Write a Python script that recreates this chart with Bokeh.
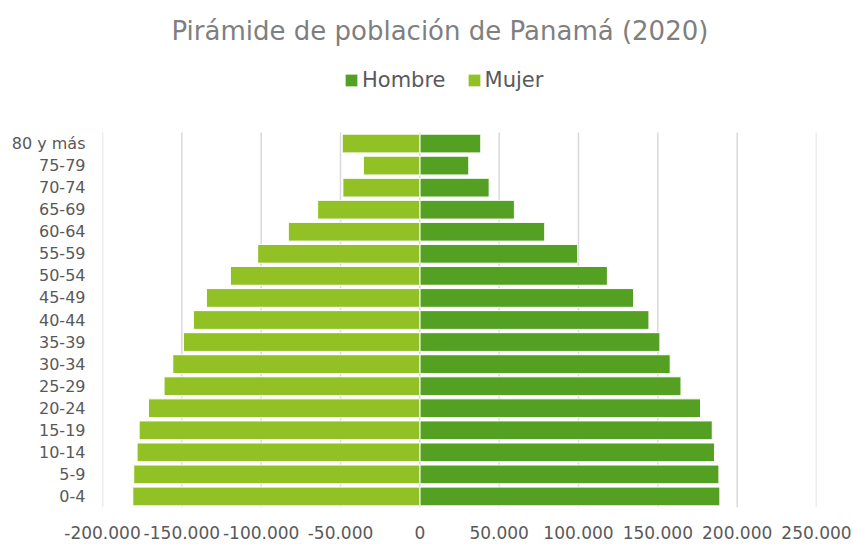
from bokeh.plotting import figure
from bokeh.models import (ColumnDataSource, Range1d, FixedTicker,
                          Legend, LegendItem, Title)
from bokeh.embed import file_html
from bokeh.resources import INLINE

# ---- data ----
age_groups = ["0-4", "5-9", "10-14", "15-19", "20-24", "25-29", "30-34", "35-39",
              "40-44", "45-49", "50-54", "55-59", "60-64", "65-69", "70-74",
              "75-79", "80 y más"]
hombre = [189100, 188500, 185700, 184300, 176900, 164600, 157800, 151300,
          144400, 134700, 118200, 99500, 78700, 59600, 43700, 30850, 38400]
mujer = [180900, 180300, 178200, 176900, 171000, 161200, 155700, 149000,
         142700, 134500, 119400, 102200, 82900, 64400, 48500, 35600, 48900]
x_ticks = [-200000, -150000, -100000, -50000, 0, 50000, 100000, 150000, 200000, 250000]

title_text = "Pirámide de población de Panamá (2020)"
FONT = "DejaVu Sans"

# ---- layout constants (pixels) ----
W, H = 853, 544
FRAME_TOP = 58          # frame starts above the legend so the legend is not clipped
CAT_TOP, CAT_BOTTOM = 132, 507
n = len(age_groups)
pos = list(range(n))
px_per_cat = (CAT_BOTTOM - CAT_TOP) / n
extra = (CAT_TOP - FRAME_TOP) / px_per_cat

src = ColumnDataSource(dict(
    pos=pos,
    h=hombre,
    m_neg=[-v for v in mujer],
    zero=[0] * n,
))

p = figure(width=W, height=H, output_backend="svg", toolbar_location=None,
           x_range=Range1d(-200000, 250000),
           y_range=Range1d(-0.5, n - 0.5 + extra),
           min_border_left=102, min_border_right=37,
           min_border_bottom=H - CAT_BOTTOM, min_border_top=FRAME_TOP)

# vertical gridlines limited to the category area
p.segment(x0=x_ticks, x1=x_ticks, y0=[-0.5] * len(x_ticks), y1=[n - 0.5] * len(x_ticks),
          line_color="#d9d9d9", line_width=1.5)

r_h = p.hbar(y="pos", left="zero", right="h", height=0.85, source=src,
             fill_color="#54A022", line_color="#ffffff", line_width=1)
r_m = p.hbar(y="pos", left="m_neg", right="zero", height=0.85, source=src,
             fill_color="#92C125", line_color="#ffffff", line_width=1)

# axes
p.xaxis.ticker = FixedTicker(ticks=x_ticks)
p.xaxis.major_label_overrides = {t: f"{t:,}".replace(",", ".") for t in x_ticks}
p.yaxis.ticker = FixedTicker(ticks=pos)
p.yaxis.major_label_overrides = {i: lab for i, lab in zip(pos, age_groups)}
for ax in (p.xaxis[0], p.yaxis[0]):
    ax.axis_line_color = None
    ax.major_tick_line_color = None
    ax.minor_tick_line_color = None
    ax.major_tick_out = 0
    ax.major_tick_in = 0
    ax.minor_tick_out = 0
    ax.minor_tick_in = 0
    ax.major_label_text_color = "#595959"
    ax.major_label_text_font = FONT
p.xaxis.major_label_text_font_size = "17px"
p.yaxis.major_label_text_font_size = "16px"
p.xaxis.major_label_standoff = 18
p.yaxis.major_label_standoff = 17

p.grid.grid_line_color = None
p.outline_line_color = None

legend = Legend(items=[LegendItem(label="Hombre", renderers=[r_h]),
                       LegendItem(label="Mujer", renderers=[r_m])],
                orientation="horizontal", location=(241, 415),
                glyph_width=16, glyph_height=16, label_standoff=3, spacing=20,
                padding=0, margin=0, border_line_color=None,
                background_fill_alpha=0,
                label_text_font=FONT, label_text_font_size="21px",
                label_text_color="#595959")
p.add_layout(legend, "center")

p.title = Title(text=title_text, align="left", offset=69, standoff=26,
                text_font=FONT, text_font_size="26px", text_font_style="normal",
                text_color="#7f7f7f")

open("out.html", "w").write(file_html(p, INLINE))
